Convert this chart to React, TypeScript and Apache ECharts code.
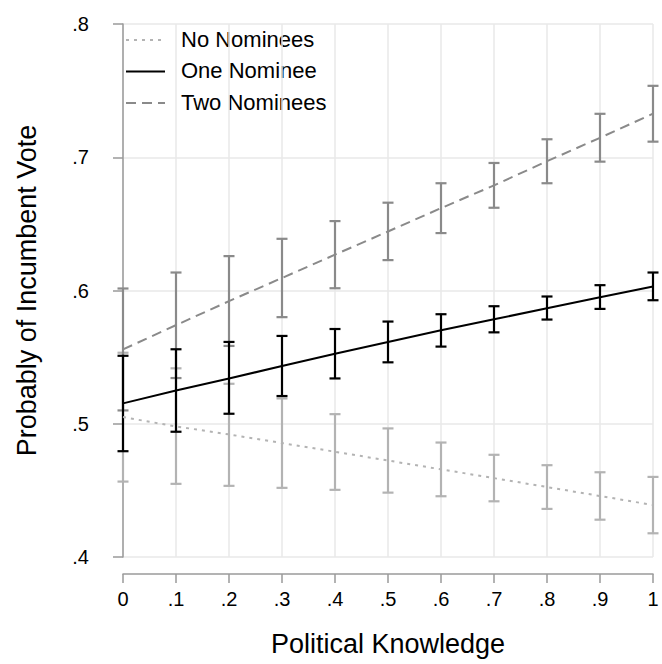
import React, { useEffect, useRef } from "react";
import * as echarts from "echarts";

// Political knowledge levels (x positions)
const knowledge = [0, 0.1, 0.2, 0.3, 0.4, 0.5, 0.6, 0.7, 0.8, 0.9, 1];

// Predicted probability of incumbent vote, with 95% interval bounds
const noNomineesMean = [0.505, 0.498, 0.492, 0.4855, 0.479, 0.4724, 0.4658, 0.4592, 0.4525, 0.4458, 0.439];
const noNomineesLow = [0.4566, 0.4549, 0.4534, 0.4519, 0.4504, 0.4483, 0.4456, 0.4418, 0.4361, 0.428, 0.4178];
const noNomineesHigh = [0.5533, 0.5416, 0.530, 0.519, 0.5072, 0.4965, 0.4859, 0.4767, 0.4689, 0.4636, 0.4601];

const oneNomineeMean = [0.5153, 0.525, 0.534, 0.5433, 0.5526, 0.5614, 0.5702, 0.5784, 0.5867, 0.595, 0.603];
const oneNomineeLow = [0.4794, 0.494, 0.5075, 0.5208, 0.534, 0.5461, 0.5579, 0.5686, 0.5782, 0.5862, 0.5927];
const oneNomineeHigh = [0.551, 0.5559, 0.5614, 0.5659, 0.5711, 0.5767, 0.5822, 0.5882, 0.5955, 0.604, 0.6135];

const twoNomineesMean = [0.5558, 0.574, 0.592, 0.6094, 0.6269, 0.6443, 0.6618, 0.6789, 0.697, 0.7146, 0.7327];
const twoNomineesLow = [0.510, 0.5343, 0.5584, 0.580, 0.6017, 0.6228, 0.6431, 0.6621, 0.6805, 0.6967, 0.7117];
const twoNomineesHigh = [0.6015, 0.6135, 0.6258, 0.6388, 0.6521, 0.6659, 0.6805, 0.6957, 0.7135, 0.7326, 0.7536];

const legendNames = ["No Nominees", "One Nominee", "Two Nominees"];

const FONT = "Liberation Sans, Arial, Helvetica, sans-serif";
const LIGHT = "#b3b3b3";
const MID = "#8a8a8a";
const DARK = "#000000";
const DOTTED = [3, 5];
const DASHED = [10, 6];

// Tick labels drop the leading zero (.1, .2 ...)
const fmt = (v: number) => {
  const s = (Math.round(v * 10) / 10).toString();
  return s.startsWith("0.") ? s.slice(1) : s;
};

function errorBars(name: string, low: number[], high: number[], color: string, z: number) {
  return {
    type: "custom",
    name: name + " CI",
    z,
    silent: true,
    data: knowledge.map((k, i) => [k, low[i], high[i]]),
    encode: { x: 0, y: [1, 2] },
    renderItem: (params: any, api: any) => {
      const x = api.value(0);
      const lo = api.coord([x, api.value(1)]);
      const hi = api.coord([x, api.value(2)]);
      const half = 5.5;
      const style = { stroke: color, lineWidth: 2.2, fill: "none" };
      return {
        type: "group",
        children: [
          { type: "line", shape: { x1: lo[0], y1: lo[1], x2: hi[0], y2: hi[1] }, style },
          { type: "line", shape: { x1: hi[0] - half, y1: hi[1], x2: hi[0] + half, y2: hi[1] }, style },
          { type: "line", shape: { x1: lo[0] - half, y1: lo[1], x2: lo[0] + half, y2: lo[1] }, style },
        ],
      };
    },
  };
}

function meanLine(name: string, mean: number[], color: string, type: any, z: number) {
  return {
    type: "line",
    name,
    z,
    data: knowledge.map((k, i) => [k, mean[i]]),
    symbol: "none",
    lineStyle: { color, width: 2, type },
    itemStyle: { color },
  };
}

// Key in the upper-left corner: a line sample followed by its label
function legendGraphic() {
  const styles = [
    { color: LIGHT, dash: DOTTED },
    { color: DARK, dash: null },
    { color: MID, dash: DASHED },
  ];
  const rows = [40, 71.5, 103];
  const children: any[] = [];
  legendNames.forEach((name, i) => {
    const y = rows[i];
    children.push({
      type: "line",
      shape: { x1: 126, y1: y, x2: 165, y2: y },
      style: { stroke: styles[i].color, lineWidth: 2, lineDash: styles[i].dash },
    });
    children.push({
      type: "text",
      x: 181,
      y: y - 1,
      style: {
        text: name,
        fontFamily: FONT,
        fontSize: 22,
        fill: "#000",
        verticalAlign: "middle",
        align: "left",
      },
    });
  });
  return [{ type: "group", children }];
}

export default function App() {
  const ref = useRef<HTMLDivElement>(null);

  useEffect(() => {
    if (!ref.current) return;
    const chart = echarts.init(ref.current, null, { renderer: "svg" });
    chart.setOption({
      animation: false,
      backgroundColor: "#ffffff",
      grid: { left: 123, right: 9, top: 24, bottom: 107, containLabel: false },
      graphic: legendGraphic(),
      xAxis: {
        type: "value",
        min: 0,
        max: 1,
        interval: 0.1,
        offset: 17,
        name: "Political Knowledge",
        nameLocation: "middle",
        nameGap: 56,
        nameTextStyle: { fontFamily: FONT, fontSize: 27, color: "#000" },
        axisLine: { show: true, lineStyle: { color: "#9a9a9a", width: 1.5 } },
        axisTick: { show: true, length: 9, lineStyle: { color: "#9a9a9a", width: 1.5 } },
        axisLabel: { fontFamily: FONT, fontSize: 20, color: "#000", margin: 15, formatter: fmt },
        splitLine: { show: true, lineStyle: { color: "#e8e8e8", width: 1.5 } },
      },
      yAxis: {
        type: "value",
        min: 0.4,
        max: 0.8,
        interval: 0.1,
        offset: 17,
        name: "Probably of Incumbent Vote",
        nameLocation: "middle",
        nameGap: 66,
        nameTextStyle: { fontFamily: FONT, fontSize: 27, color: "#000" },
        axisLine: { show: true, lineStyle: { color: "#9a9a9a", width: 1.5 } },
        axisTick: { show: true, length: 10, lineStyle: { color: "#9a9a9a", width: 1.5 } },
        axisLabel: { fontFamily: FONT, fontSize: 20, color: "#000", margin: 17, formatter: fmt },
        splitLine: { show: true, lineStyle: { color: "#e8e8e8", width: 1.5 } },
      },
      series: [
        errorBars("No Nominees", noNomineesLow, noNomineesHigh, LIGHT, 2),
        errorBars("Two Nominees", twoNomineesLow, twoNomineesHigh, MID, 3),
        errorBars("One Nominee", oneNomineeLow, oneNomineeHigh, DARK, 4),
        meanLine("No Nominees", noNomineesMean, LIGHT, DOTTED, 5),
        meanLine("Two Nominees", twoNomineesMean, MID, DASHED, 6),
        meanLine("One Nominee", oneNomineeMean, DARK, "solid", 7),
      ],
    });
    return () => chart.dispose();
  }, []);

  return (
    <div
      ref={ref}
      style={{ position: "fixed", left: 0, top: 0, width: 662, height: 664 }}
    />
  );
}
